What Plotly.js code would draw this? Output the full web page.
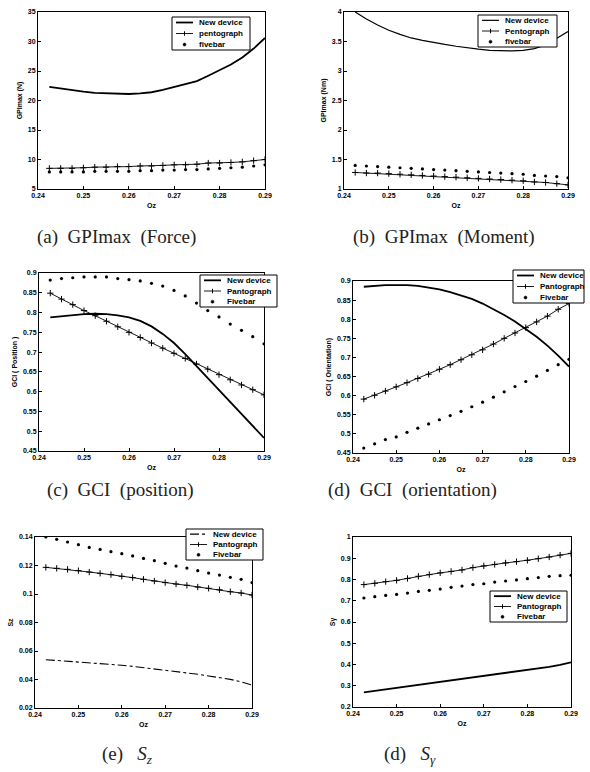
<!DOCTYPE html>
<html>
<head>
<meta charset="utf-8">
<script src="https://cdn.plot.ly/plotly-3.0.1.min.js"></script>
<style>html,body{margin:0;padding:0;background:#fff;}</style>
</head>
<body>
<div id="chart" style="width:590px;height:772px;"></div>
<script>
// ---------- data ----------
const oz = [0.2425,0.245,0.2475,0.25,0.2525,0.255,0.2575,0.26,0.2625,0.265,0.2675,0.27,0.2725,0.275,0.2775,0.28,0.2825,0.285,0.2875,0.29];

// (a) GPImax (Force)
const forceNew   = [22.3,22.0,21.7,21.5,21.3,21.2,21.1,21.1,21.2,21.4,21.8,22.3,22.7,23.3,24.2,25.1,26.1,27.3,28.8,30.6];
const forcePanto = [8.5,8.5,8.5,8.6,8.7,8.7,8.8,8.8,8.9,8.9,9.0,9.1,9.1,9.2,9.4,9.4,9.5,9.6,9.8,10.0];
const forceFive  = [7.9,7.9,7.9,7.9,8.0,8.0,8.0,8.0,8.1,8.1,8.2,8.2,8.3,8.3,8.4,8.5,8.6,8.7,8.9,9.1];

// (b) GPImax (Moment)
const momentNew   = [4.00,3.88,3.78,3.69,3.62,3.56,3.52,3.48,3.45,3.42,3.39,3.37,3.35,3.34,3.34,3.35,3.38,3.44,3.55,3.67];
const momentPanto = [1.28,1.27,1.27,1.26,1.25,1.24,1.23,1.22,1.21,1.20,1.19,1.18,1.17,1.16,1.15,1.14,1.12,1.11,1.09,1.07];
const momentFive  = [1.40,1.39,1.38,1.37,1.36,1.35,1.34,1.33,1.32,1.31,1.30,1.29,1.28,1.27,1.26,1.25,1.23,1.22,1.21,1.19];

// (c) GCI (position)
const posNew   = [0.788,0.791,0.794,0.796,0.797,0.796,0.793,0.788,0.779,0.765,0.746,0.723,0.695,0.665,0.634,0.603,0.573,0.544,0.514,0.483];
const posPanto = [0.849,0.834,0.820,0.805,0.792,0.778,0.764,0.750,0.737,0.723,0.710,0.697,0.684,0.670,0.657,0.643,0.630,0.617,0.605,0.592];
const posFive  = [0.882,0.886,0.888,0.890,0.890,0.890,0.886,0.883,0.880,0.874,0.867,0.856,0.842,0.824,0.805,0.789,0.771,0.755,0.739,0.721];

// (d) GCI (orientation)
const oriNew   = [0.885,0.887,0.889,0.889,0.889,0.887,0.883,0.878,0.871,0.863,0.853,0.841,0.827,0.811,0.794,0.775,0.754,0.731,0.705,0.676];
const oriPanto = [0.591,0.601,0.612,0.623,0.634,0.645,0.656,0.669,0.681,0.694,0.707,0.720,0.735,0.750,0.764,0.778,0.793,0.808,0.826,0.841];
const oriFive  = [0.463,0.474,0.485,0.492,0.504,0.515,0.526,0.537,0.548,0.559,0.571,0.583,0.596,0.610,0.624,0.637,0.651,0.666,0.681,0.695];

// (e) Sz
const szNew   = [0.0539,0.0534,0.0528,0.0523,0.0518,0.0512,0.0506,0.0500,0.0492,0.0483,0.0476,0.0469,0.0459,0.0448,0.0437,0.0425,0.0413,0.0401,0.0383,0.0362];
const szPanto = [0.1187,0.1180,0.1173,0.1164,0.1154,0.1145,0.1136,0.1124,0.1115,0.1103,0.1091,0.1080,0.1070,0.1061,0.1049,0.1040,0.1030,0.1016,0.1007,0.0993];
const szFive  = [0.1400,0.1384,0.1365,0.1346,0.1327,0.1313,0.1297,0.1283,0.1267,0.1250,0.1234,0.1215,0.1196,0.1182,0.1164,0.1147,0.1133,0.1117,0.1103,0.1080];

// (f) S gamma
const sgNew   = [0.269,0.276,0.283,0.290,0.297,0.304,0.310,0.317,0.324,0.331,0.337,0.344,0.351,0.358,0.365,0.372,0.380,0.389,0.398,0.410];
const sgPanto = [0.776,0.782,0.790,0.796,0.805,0.815,0.823,0.831,0.838,0.845,0.856,0.864,0.871,0.878,0.884,0.890,0.898,0.906,0.915,0.923];
const sgFive  = [0.713,0.719,0.725,0.730,0.736,0.744,0.749,0.755,0.763,0.769,0.776,0.780,0.788,0.793,0.798,0.804,0.809,0.815,0.818,0.820];

// text
const yTitles = ['GPImax (N)','GPImax (Nm)','GCI ( Position )','GCI ( Orientation)','Sz','Sγ'];
const xTitle = 'Oz';
const legendLabels = [
  ['New device','pentograph','fivebar'],
  ['New device','Pentograph','fivebar'],
  ['New device','Pantograph','Fivebar'],
  ['New device','Pantograph','Fivebar'],
  ['New device','Pantograph','Fivebar'],
  ['New device','Pantograph','Fivebar']
];
const captions = [
  '(a)\u00A0\u00A0GPImax\u00A0\u00A0(Force)',
  '(b)\u00A0\u00A0GPImax\u00A0\u00A0(Moment)',
  '(c)\u00A0\u00A0GCI\u00A0\u00A0(position)',
  '(d)\u00A0\u00A0GCI\u00A0\u00A0(orientation)',
  '(e)\u00A0\u00A0\u00A0<i>S</i><sub><i>z</i></sub>',
  '(d)\u00A0\u00A0\u00A0<i>S</i><sub><i>γ</i></sub>'
];
const yRanges = [[5,35],[1,4],[0.45,0.9],[0.45,0.9],[0.02,0.14],[0.2,1]];
const yDticks = [5,0.5,0.05,0.05,0.02,0.1];
const xRange = [0.24,0.29];

const series = [
  [forceNew, forcePanto, forceFive],
  [momentNew, momentPanto, momentFive],
  [posNew, posPanto, posFive],
  [oriNew, oriPanto, oriFive],
  [szNew, szPanto, szFive],
  [sgNew, sgPanto, sgFive]
];

// ---------- layout geometry (pixels) ----------
const W = 590, H = 772;
const px = x => x / W;
const py = y => 1 - y / H;
const boxes = [
  [38, 12, 265, 189],
  [344, 12, 568, 189],
  [39, 273, 264, 451],
  [353, 281, 569, 453],
  [35, 537, 252, 708],
  [353, 537, 571, 707]
];
const legendBoxes = [
  [172, 17, 250, 50],
  [478, 15, 557, 47],
  [200, 275, 277, 307],
  [513, 270, 584, 303],
  [186, 529, 263, 560],
  [490, 591, 567, 622]
];
const captionPos = [[116,237],[444,237],[121,490],[412,490],[127,755],[410,755]];
const newStyles = [
  {width:1.8, dash:'solid'},
  {width:1.2, dash:'solid'},
  {width:1.8, dash:'solid'},
  {width:1.8, dash:'solid'},
  {width:1.1, dash:'dashdot'},
  {width:1.8, dash:'solid'}
];

const traces = [];
const layout = {
  width: W, height: H,
  margin: {l:0, r:0, t:0, b:0},
  paper_bgcolor: '#fff', plot_bgcolor: '#fff',
  showlegend: false,
  shapes: [], annotations: []
};

const tickFont = {family:'Liberation Sans, Arial, sans-serif', size:7, color:'#000', weight:'bold'};
const titleFont = {family:'Liberation Sans, Arial, sans-serif', size:7, color:'#000', weight:'bold'};

for (let i = 0; i < 6; i++) {
  const n = i + 1;
  const xa = 'x' + (n === 1 ? '' : n), ya = 'y' + (n === 1 ? '' : n);
  const b = boxes[i];
  const [sNew, sPanto, sFive] = series[i];
  traces.push({x: oz, y: sNew, xaxis: xa, yaxis: ya, type:'scatter', mode:'lines',
    name: legendLabels[i][0], line:{color:'#000', width:newStyles[i].width, dash:newStyles[i].dash}});
  traces.push({x: oz, y: sPanto, xaxis: xa, yaxis: ya, type:'scatter', mode:'lines+markers',
    name: legendLabels[i][1], line:{color:'#000', width:0.9},
    marker:{symbol:'cross-thin-open', size:4.5, color:'#000', line:{color:'#000', width:1}}});
  traces.push({x: oz, y: sFive, xaxis: xa, yaxis: ya, type:'scatter', mode:'markers',
    name: legendLabels[i][2], marker:{symbol:'circle', size:3.2, color:'#000'}});

  const common = {showline:true, mirror:true, linecolor:'#000', linewidth:1,
    ticks:'inside', ticklen:3, tickcolor:'#000', showgrid:false, zeroline:false,
    tickfont: tickFont};
  layout['xaxis' + (n === 1 ? '' : n)] = Object.assign({}, common, {
    domain:[px(b[0]), px(b[2])], anchor: ya, range: xRange, dtick: 0.01, tick0: 0.24,
    tickformat: '.2f', title: {text: xTitle, font: titleFont, standoff: 4}
  });
  layout['yaxis' + (n === 1 ? '' : n)] = Object.assign({}, common, {
    domain:[py(b[3]), py(b[1])], anchor: xa, range: yRanges[i], dtick: yDticks[i],
    tick0: yRanges[i][0], title: {text: yTitles[i], font: titleFont, standoff: 4}
  });

  // compact legend box
  const L = legendBoxes[i];
  layout.shapes.push({type:'rect', xref:'paper', yref:'paper',
    x0:px(L[0]), x1:px(L[2]), y0:py(L[3]), y1:py(L[1]),
    line:{color:'#000', width:1}, fillcolor:'#fff', layer:'above'});
  const rowGap = (L[3] - L[1]) / 3;
  for (let r = 0; r < 3; r++) {
    const yy = L[1] + rowGap * (r + 0.5);
    const sx0 = L[0] + 4, sx1 = L[0] + 21, mx = L[0] + 12.5;
    if (r === 0) {
      layout.shapes.push({type:'line', xref:'paper', yref:'paper', x0:px(sx0), x1:px(sx1),
        y0:py(yy), y1:py(yy), line:{color:'#000', width:newStyles[i].width, dash:newStyles[i].dash}});
    } else if (r === 1) {
      layout.shapes.push({type:'line', xref:'paper', yref:'paper', x0:px(sx0), x1:px(sx1),
        y0:py(yy), y1:py(yy), line:{color:'#000', width:0.9}});
      layout.shapes.push({type:'line', xref:'paper', yref:'paper', x0:px(mx), x1:px(mx),
        y0:py(yy - 2.2), y1:py(yy + 2.2), line:{color:'#000', width:1}});
    } else {
      layout.shapes.push({type:'circle', xref:'paper', yref:'paper', x0:px(mx - 1.5), x1:px(mx + 1.5),
        y0:py(yy + 1.5), y1:py(yy - 1.5), line:{color:'#000', width:0.5}, fillcolor:'#000'});
    }
    layout.annotations.push({xref:'paper', yref:'paper', x:px(L[0] + 25), y:py(yy),
      xanchor:'left', yanchor:'middle', showarrow:false, text: legendLabels[i][r],
      font:{family:'Liberation Sans, Arial, sans-serif', size:8, color:'#000', weight:'bold'}});
  }

  // caption
  layout.annotations.push({xref:'paper', yref:'paper', x:px(captionPos[i][0]), y:py(captionPos[i][1]),
    xanchor:'center', yanchor:'middle', showarrow:false, text: captions[i],
    font:{family:'Liberation Serif, Times New Roman, serif', size:19, color:'#222'}});
}

Plotly.newPlot('chart', traces, layout, {staticPlot:true, displayModeBar:false});
</script>
</body>
</html>
